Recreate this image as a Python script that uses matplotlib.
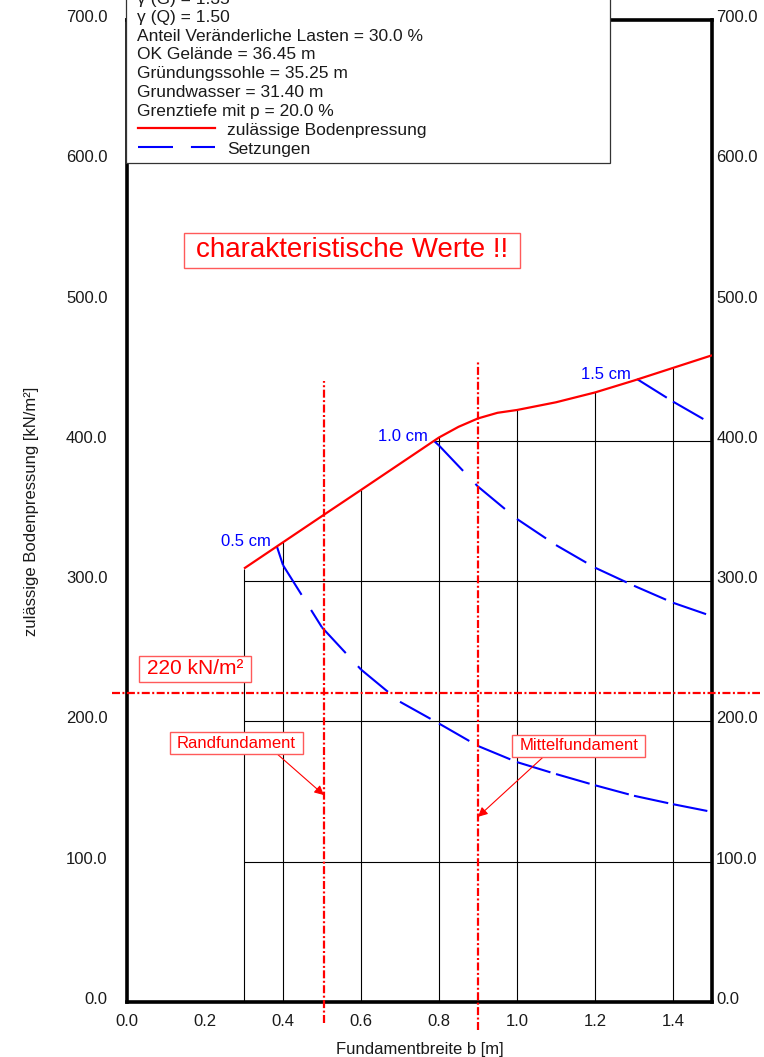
import numpy as np
import matplotlib
matplotlib.use("Agg")
import matplotlib.pyplot as plt
from matplotlib.patches import Rectangle
from matplotlib.lines import Line2D
from matplotlib.transforms import ScaledTranslation

plt.rcParams['font.family'] = ['Liberation Sans', 'DejaVu Sans']
plt.rcParams['font.size'] = 12

ROT = '#ff0000'
BLAU = '#0000ff'
BOX_EDGE = '#ff5a5a'
TEXT = '#1a1a1a'

# zulässige Bodenpressung über der Fundamentbreite
breite = [0.30, 0.40, 0.50, 0.60, 0.70, 0.80, 0.85, 0.90, 0.95, 1.00, 1.10, 1.20, 1.30, 1.40, 1.50]
bodenpressung = [309.0, 327.7, 346.4, 365.0, 383.7, 402.4, 410.0, 416.0, 420.0, 422.0,
                 427.5, 434.5, 443.0, 452.0, 461.0]

# Setzungslinien (Fundamentbreite, Bodenpressung)
setz_labels = ['0.5 cm', '1.0 cm', '1.5 cm']
setz_05_b = [0.384, 0.40, 0.50, 0.60, 0.70, 0.80, 0.90, 1.00, 1.10, 1.20, 1.30, 1.40, 1.50]
setz_05_p = [325.0, 311.4, 267.0, 237.0, 214.0, 198.5, 182.5, 171.0, 162.5, 154.5, 147.0, 141.0, 135.5]
setz_10_b = [0.787, 0.80, 0.90, 1.00, 1.10, 1.20, 1.30, 1.40, 1.50]
setz_10_p = [400.0, 396.7, 367.4, 344.3, 325.7, 309.6, 296.7, 284.6, 275.0]
setz_15_b = [1.308, 1.40, 1.50]
setz_15_p = [444.0, 428.0, 412.0]

# Fundamente und Grenzwert
fund_rand_b = 0.505
fund_mittel_b = 0.90
grenz_pressung = 220

# Raster unter der Bodenpressungslinie
raster_b = [0.3, 0.4, 0.6, 0.8, 1.0, 1.2, 1.4]
raster_p = [100, 200, 300, 400]

x_ticks = [0.0, 0.2, 0.4, 0.6, 0.8, 1.0, 1.2, 1.4]
y_ticks = [0, 100, 200, 300, 400, 500, 600, 700]

parameter_text = [
    'γ (G) = 1.35',
    'γ (Q) = 1.50',
    'Anteil Veränderliche Lasten = 30.0 %',
    'OK Gelände = 36.45 m',
    'Gründungssohle = 35.25 m',
    'Grundwasser = 31.40 m',
    'Grenztiefe mit p = 20.0 %',
]
legend_labels = ['zulässige Bodenpressung', 'Setzungen']

W, H = 764, 1057
fig = plt.figure(figsize=(W / 100, H / 100), dpi=100)
ax = fig.add_axes([127 / W, 1 - 1002 / H, (712 - 127) / W, (1002 - 20) / H])
ax.set_xlim(0, 1.5)
ax.set_ylim(0, 700)

for s in ax.spines.values():
    s.set_linewidth(2.6)
    s.set_color('black')

ax.set_xticks(x_ticks)
ax.set_xticklabels([f'{v:.1f}' for v in x_ticks])
ax.set_yticks(y_ticks)
ax.set_yticklabels([f'{v:.1f}' for v in y_ticks])
ax.tick_params(axis='both', length=0, labelsize=12, colors=TEXT)
ax.tick_params(axis='x', pad=9)
ax.tick_params(axis='y', pad=14)

ax2 = ax.twinx()
ax2.set_ylim(0, 700)
ax2.set_yticks(y_ticks)
ax2.set_yticklabels([f'{v:.1f}' for v in y_ticks])
ax2.tick_params(axis='y', length=0, pad=3, labelsize=12, colors=TEXT)
for s in ax2.spines.values():
    s.set_visible(False)

# Beschriftungen der y-Achse etwas über der Rasterlinie
lift = ScaledTranslation(0, 4 / 100, fig.dpi_scale_trans)
for lbl in ax.get_yticklabels() + ax2.get_yticklabels():
    lbl.set_transform(lbl.get_transform() + lift)

ax.set_xlabel('Fundamentbreite b [m]', fontsize=12, color=TEXT)
ax.xaxis.set_label_coords(0.5, -(1042 - 1002) / 982)
ax.set_ylabel('zulässige Bodenpressung [kN/m²]', fontsize=12, color=TEXT)
ax.yaxis.set_label_coords((39.5 - 127) / 585, 0.5)

# Raster: senkrechte Linien bis zur Kurve, waagerechte ab der Kurve
v_top = np.interp(raster_b, breite, bodenpressung)
ax.vlines(raster_b, 0, v_top, colors='black', lw=0.8, zorder=1)
h_start = np.maximum(np.interp(raster_p, bodenpressung, breite), breite[0])
ax.hlines(raster_p, h_start, breite[-1], colors='black', lw=0.8, zorder=1)

# zulässige Bodenpressung
ax.plot(breite, bodenpressung, color=ROT, lw=1.6, zorder=5, solid_capstyle='butt')

# Setzungslinien, Strichmuster beginnt an jedem Stützpunkt neu
DASH_SETZ = (16.8, 8.6)
for bs, ps, lab in zip([setz_05_b, setz_10_b, setz_15_b],
                       [setz_05_p, setz_10_p, setz_15_p], setz_labels):
    for i in range(len(bs) - 1):
        ax.plot(bs[i:i + 2], ps[i:i + 2], color=BLAU, lw=1.5, dashes=DASH_SETZ,
                dash_capstyle='butt', zorder=4)
    ax.annotate(lab, xy=(bs[0], ps[0]), xytext=(-4.3, 3.3), textcoords='offset points',
                ha='right', va='center', color=BLAU, fontsize=12, zorder=6)

# Fundamentbreiten und Grenzwert als Strich-Punkt-Linien
DASH_DOT = (3.6, 1.1, 0.9, 1.1)
ax.plot([fund_rand_b, fund_rand_b], [-15, 443], color=ROT, lw=1.6, dashes=DASH_DOT,
        clip_on=False, zorder=6)
ax.plot([fund_mittel_b, fund_mittel_b], [-20, 457], color=ROT, lw=1.6, dashes=DASH_DOT,
        clip_on=False, zorder=6)
ax.plot([-0.038, 1.623], [grenz_pressung, grenz_pressung], color=ROT, lw=1.6,
        dashes=DASH_DOT, clip_on=False, zorder=6)

# rote Hinweise mit Rahmen (Breite des Rahmens, Höhe in Pixel)
hinweise = [
    ((0.578, 536), 'charakteristische Werte !!', 20, 12, 35),
    ((0.174, 237.5), f'{grenz_pressung} kN/m²', 15, 8, 26),
    ((0.281, 184.6), 'Randfundament', 12, 7, 22),
    ((1.158, 182.5), 'Mittelfundament', 12, 7, 22),
]
hinweis_texte = []
for (hx, hy), txt, fs, padx, hpx in hinweise:
    t = ax.text(hx, hy, txt, fontsize=fs, color=ROT, ha='center', va='center', zorder=8)
    hinweis_texte.append((t, padx, hpx))

arrow_kw = dict(arrowstyle='-|>', color=ROT, lw=0.8, mutation_scale=14, shrinkA=0, shrinkB=0)
ax.annotate('', xy=(fund_rand_b, 147.5), xytext=(0.385, 176.8), arrowprops=arrow_kw, zorder=7)
ax.annotate('', xy=(fund_mittel_b, 132), xytext=(1.067, 174.6), arrowprops=arrow_kw, zorder=7)

# Parameterkasten oben links
fig.add_artist(Rectangle((126 / W, 1 - 163 / H), (610 - 126) / W, 0.3,
                         transform=fig.transFigure, facecolor='white', edgecolor='#333333',
                         lw=0.9, zorder=10, clip_on=False))
baselines = [3.6, 22.3, 40.8, 59.4, 78.2, 97.2, 115.7]
for txt, yb in zip(parameter_text, baselines):
    fig.text(137 / W, 1 - yb / H, txt, fontsize=12.5, color=TEXT, ha='left',
             va='baseline', zorder=11)
fig.add_artist(Line2D([138 / W, 215 / W], [1 - 128.3 / H] * 2, transform=fig.transFigure,
                      color=ROT, lw=1.6, zorder=11))
fig.add_artist(Line2D([138 / W, 215 / W], [1 - 146.7 / H] * 2, transform=fig.transFigure,
                      color=BLAU, lw=1.5, dashes=DASH_SETZ, dash_capstyle='butt', zorder=11))
for txt, yb in zip(legend_labels, [134.8, 153.8]):
    fig.text(227 / W, 1 - yb / H, txt, fontsize=12.5, color=TEXT, ha='left',
             va='baseline', zorder=11)

# Rahmen hinter die roten Hinweise legen
fig.canvas.draw()
renderer = fig.canvas.get_renderer()
for t, padx, hpx in hinweis_texte:
    ext = t.get_window_extent(renderer)
    cy = 0.5 * (ext.y0 + ext.y1)
    box = Rectangle((ext.x0 - padx, cy - hpx / 2), ext.width + 2 * padx, hpx,
                    transform=None, facecolor='white', edgecolor=BOX_EDGE, lw=1.0,
                    zorder=7.5, clip_on=False)
    ax.add_artist(box)

fig.savefig('out.png', dpi=100)
